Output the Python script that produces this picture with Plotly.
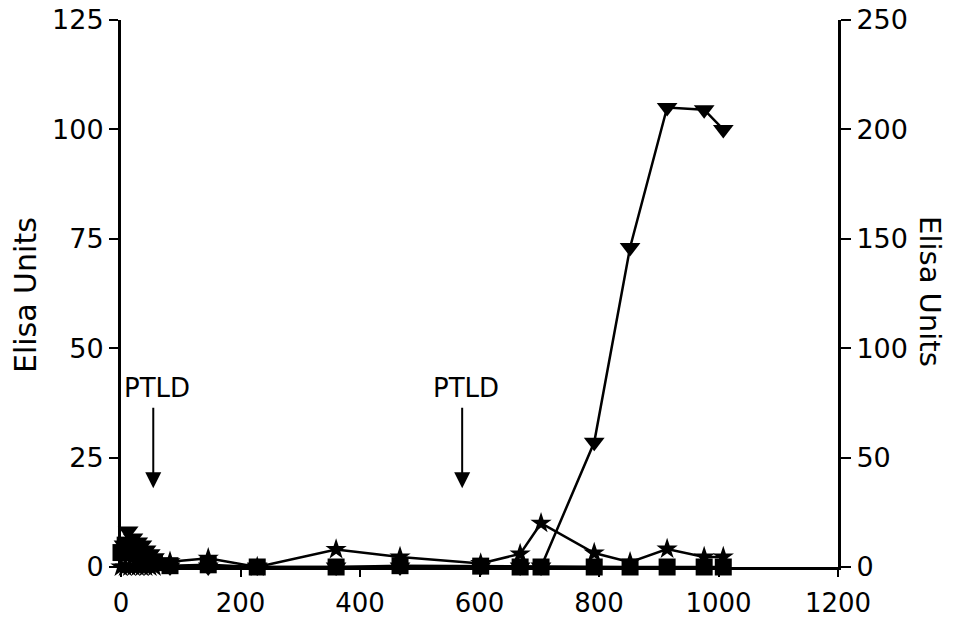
import plotly.graph_objects as go

# Days after transplant (x) and ELISA units
sq_days = [0, 7, 14, 21, 28, 35, 42, 56, 82, 146, 228, 360, 467, 602, 668, 703, 792, 852, 914, 976, 1008]
sq_vals = [3.3, 5.0, 4.5, 4.0, 3.0, 2.5, 2.0, 1.0, 0.3, 0.5, 0.0, 0.0, 0.3, 0.2, 0.0, 0.0, 0.0, 0.0, 0.0, 0.0, 0.0]

star_days = [0, 7, 14, 21, 28, 35, 42, 49, 56, 82, 146, 228, 360, 467, 602, 668, 703, 792, 852, 914, 976, 1008]
star_vals = [0.0, 0.0, 0.0, 0.0, 0.0, 0.0, 0.0, 0.0, 0.0, 1.2, 2.0, 0.0, 4.0, 2.3, 0.8, 3.0, 10.0, 3.2, 1.1, 4.1, 2.3, 2.3]

tri_days = [5, 12, 20, 28, 35, 42, 49, 56, 65, 82, 146, 228, 360, 467, 602, 668, 703, 792, 852, 914, 976, 1008]
tri_vals = [10.0, 16.4, 13.2, 11.4, 10.0, 7.8, 6.0, 4.2, 2.2, 0.0, 0.0, 0.0, 0.0, 0.0, 0.0, 0.0, 0.0, 57.0, 146.0, 210.0, 209.0, 200.0]

ptld_days = [54, 571]
ptld_label = "PTLD"

x_ticks = [0, 200, 400, 600, 800, 1000, 1200]
y_left_ticks = [0, 25, 50, 75, 100, 125]
y_right_ticks = [0, 50, 100, 150, 200, 250]

FONT = "DejaVu Sans"

fig = go.Figure()
fig.add_trace(go.Scatter(x=star_days, y=star_vals, mode="lines+markers",
                         line=dict(color="black", width=2.5),
                         marker=dict(symbol="star", size=16, color="black"),
                         cliponaxis=False, yaxis="y", showlegend=False))
fig.add_trace(go.Scatter(x=sq_days, y=sq_vals, mode="lines+markers",
                         line=dict(color="black", width=2.5),
                         marker=dict(symbol="square", size=17, color="black"),
                         cliponaxis=False, yaxis="y", showlegend=False))
fig.add_trace(go.Scatter(x=tri_days, y=tri_vals, mode="lines+markers",
                         line=dict(color="black", width=2.5),
                         marker=dict(symbol="triangle-down", size=18, color="black"),
                         cliponaxis=False, yaxis="y2", showlegend=False))

annotations = []
for d in ptld_days:
    annotations.append(dict(x=d, y=18, xref="x", yref="y", text="", showarrow=True,
                            ax=0, ay=-82, arrowhead=2, arrowsize=1.6, arrowwidth=2,
                            arrowcolor="black"))
    annotations.append(dict(x=d + 7, y=41, xref="x", yref="y", text=ptld_label,
                            showarrow=False, xanchor="center", yanchor="middle",
                            font=dict(family=FONT, size=26, color="black")))

annotations.append(dict(x=-0.134, y=0.497, xref="paper", yref="paper", text="Elisa Units",
                        textangle=-90, showarrow=False, xanchor="center", yanchor="middle",
                        font=dict(family=FONT, size=30, color="black")))
annotations.append(dict(x=1.128, y=0.503, xref="paper", yref="paper", text="Elisa Units",
                        textangle=90, showarrow=False, xanchor="center", yanchor="middle",
                        font=dict(family=FONT, size=29, color="black")))

fig.update_layout(
    width=953, height=620,
    margin=dict(l=121, r=115, t=20, b=53, autoexpand=False),
    paper_bgcolor="white", plot_bgcolor="white",
    font=dict(family=FONT, size=27, color="black"),
    xaxis=dict(range=[0, 1200], tickvals=x_ticks, showgrid=False, zeroline=False,
               showline=True, linecolor="black", linewidth=3, automargin=False,
               ticks="outside", ticklen=7, tickwidth=2, tickcolor="black",
               ticklabelstandoff=4, ticklabeloverflow="allow",
               tickfont=dict(family=FONT, size=26, color="black")),
    yaxis=dict(range=[0, 125], tickvals=y_left_ticks, showgrid=False, zeroline=False,
               showline=True, linecolor="black", linewidth=3, automargin=False,
               ticks="outside", ticklen=9, tickwidth=2, tickcolor="black",
               ticklabeloverflow="allow"),
    yaxis2=dict(range=[0, 250], tickvals=y_right_ticks, overlaying="y", side="right",
                showgrid=False, zeroline=False, showline=True, linecolor="black", linewidth=3,
                automargin=False, ticklabeloverflow="allow",
                ticks="outside", ticklen=10, tickwidth=2, tickcolor="black"),
    annotations=annotations,
)

fig.write_html("out.html",
               config={"displayModeBar": False},
               post_script="document.body.style.margin='0px';document.body.style.overflow='hidden';")
